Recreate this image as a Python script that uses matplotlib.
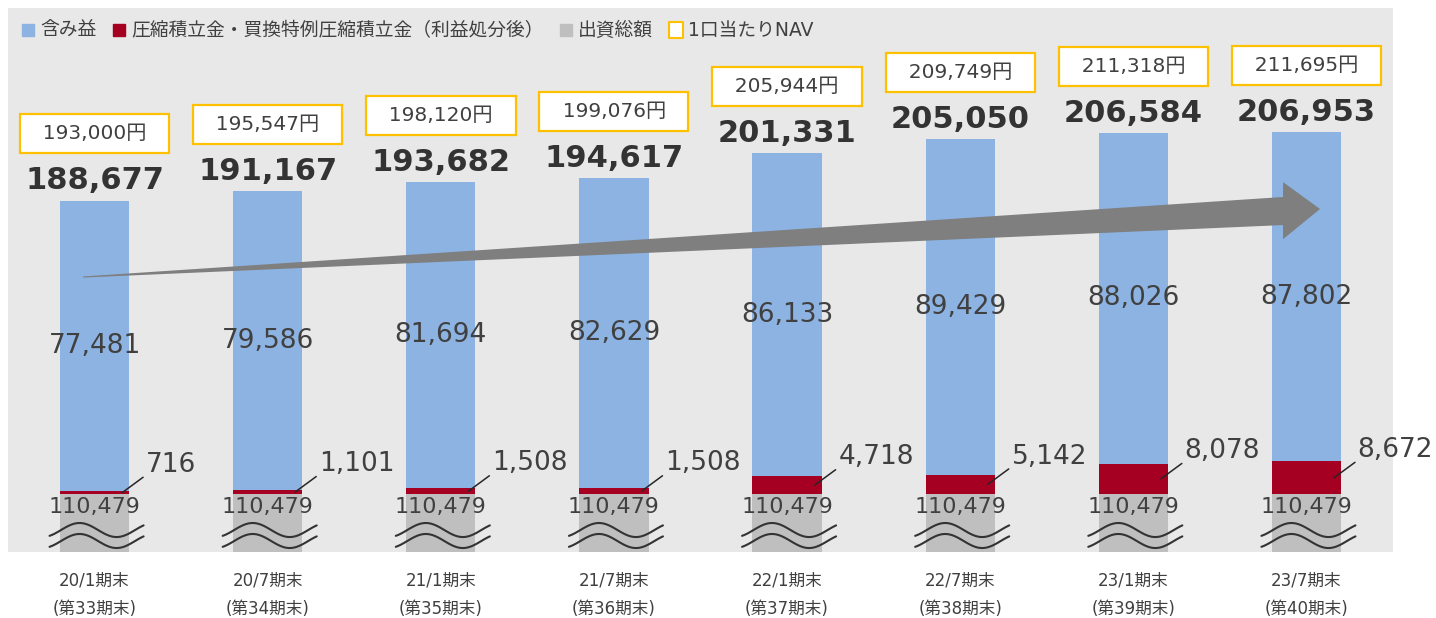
import numpy as np
import matplotlib.pyplot as plt
import matplotlib.transforms as mtransforms
from matplotlib.lines import Line2D
from matplotlib.patches import Polygon
from matplotlib.path import Path

plt.rcParams['font.family'] = ['DejaVu Sans', 'Noto Sans CJK JP']

# ---------------- data ----------------
periods = ["20/1期末\n(第33期末)", "20/7期末\n(第34期末)", "21/1期末\n(第35期末)",
           "21/7期末\n(第36期末)", "22/1期末\n(第37期末)", "22/7期末\n(第38期末)",
           "23/1期末\n(第39期末)", "23/7期末\n(第40期末)"]
capital = [110479, 110479, 110479, 110479, 110479, 110479, 110479, 110479]   # 出資総額
reserve = [716, 1101, 1508, 1508, 4718, 5142, 8078, 8672]                     # 圧縮積立金等
unrealized = [77481, 79586, 81694, 82629, 86133, 89429, 88026, 87802]         # 含み益
totals = [188677, 191167, 193682, 194617, 201331, 205050, 206584, 206953]     # bold labels
nav = [193000, 195547, 198120, 199076, 205944, 209749, 211318, 211695]        # 1口当たりNAV

BLUE = "#8DB3E2"
RED = "#A50021"
GREY = "#BFBFBF"
BG = "#E8E8E8"
TXT = "#404040"
YELLOW = "#FFC000"

fig = plt.figure(figsize=(14.36, 6.18), dpi=100)
ax = fig.add_axes([8 / 1436, 66 / 618, 1385 / 1436, 544 / 618])
ax.set_facecolor(BG)

x = np.arange(len(periods))
w = 0.40
cap = np.array(capital)
res = np.array(reserve)
unr = np.array(unrealized)
ax.bar(x, cap, w, color=GREY, zorder=2)
ax.bar(x, res, w, bottom=cap, color=RED, zorder=2)
ax.bar(x, unr, w, bottom=cap + res, color=BLUE, zorder=2)
tops = cap + res + unr

ax.set_xlim(-0.5, 7.5)
ax.set_ylim(95000, 240000)     # broken axis: only the top of 出資総額 is shown
for s in ax.spines.values():
    s.set_visible(False)
ax.set_yticks([])
ax.set_xticks(x)
ax.set_xticklabels(periods, fontsize=12, color=TXT, linespacing=1.75)
ax.tick_params(axis='x', length=0, pad=14)

# trend arrow (axes fraction)
arrow = Polygon([(0.0542, 0.5065), (0.9206, 0.6526), (0.9206, 0.680), (0.9473, 0.6305),
                 (0.9206, 0.575), (0.9206, 0.601), (0.0542, 0.5045)],
                closed=True, transform=ax.transAxes, fc="#7F7F7F", ec="none", zorder=3)
ax.add_patch(arrow)

# wavy break marks
blend = mtransforms.blended_transform_factory(ax.transData, ax.transAxes)
t = np.linspace(-45, 49, 80)                  # px relative to bar centre
wave = np.cos(2 * np.pi * (t + 15) / 74)
for i in x:
    for yc in (0.0404, 0.0202):
        ax.plot(i + t / 173, yc + 0.0129 * wave, color="#333333", lw=1.5,
                transform=blend, zorder=4, solid_capstyle='round')

for i in x:
    # 出資総額
    ax.annotate(f"{capital[i]:,}", xy=(i, capital[i]), xytext=(0, -9.5),
                textcoords="offset points", ha="center", va="center",
                fontsize=16, color=TXT, zorder=5)
    # 含み益
    ax.text(i, cap[i] + res[i] + unr[i] / 2, f"{unrealized[i]:,}", ha="center",
            va="center", fontsize=19, color=TXT, zorder=5)
    # 圧縮積立金 with leader line
    ax.annotate(f"{reserve[i]:,}", xy=(i + 0.16, cap[i] + res[i] / 2), xytext=(17, 20),
                textcoords="offset points", ha="left", va="center", fontsize=19,
                color=TXT, zorder=5,
                arrowprops=dict(arrowstyle="-", color="#262626", lw=1.1,
                                relpos=(0, 0.1), shrinkA=0, shrinkB=0))
    # bold totals
    ax.annotate(f"{totals[i]:,}", xy=(i, tops[i]), xytext=(0, 8),
                textcoords="offset points", ha="center", va="baseline",
                fontsize=22, fontweight="bold", color="#333333", zorder=5)
    # NAV boxes
    ax.annotate(f"  {nav[i]:,}円  ", xy=(i, tops[i]), xytext=(0, 48),
                textcoords="offset points", ha="center", va="center",
                fontsize=14.5, color=TXT, zorder=6,
                bbox=dict(boxstyle="square,pad=0.5", fc="white", ec=YELLOW, lw=1.6))

# legend
nav_mark = Path([(-0.44, -0.5), (0.44, -0.5), (0.44, 0.5), (-0.44, 0.5), (-0.44, -0.5)],
                [Path.MOVETO, Path.LINETO, Path.LINETO, Path.LINETO, Path.CLOSEPOLY])
handles = [
    Line2D([], [], ls="", marker="s", ms=8, mfc=BLUE, mec=BLUE),
    Line2D([], [], ls="", marker="s", ms=8, mfc=RED, mec=RED),
    Line2D([], [], ls="", marker="s", ms=8, mfc=GREY, mec=GREY),
    Line2D([], [], ls="", marker=nav_mark, ms=11.5, mfc="white", mec=YELLOW, mew=1.5),
]
labels = ["含み益", "圧縮積立金・買換特例圧縮積立金（利益処分後）", "出資総額", "1口当たりNAV"]
ax.legend(handles, labels, loc="center left", bbox_to_anchor=(0.009, 0.958), ncol=4,
          frameon=False, fontsize=13.5, handlelength=0.8, handletextpad=0.25,
          columnspacing=0.8, borderpad=0, borderaxespad=0, labelcolor=TXT)

fig.savefig("out.png", dpi=100)
